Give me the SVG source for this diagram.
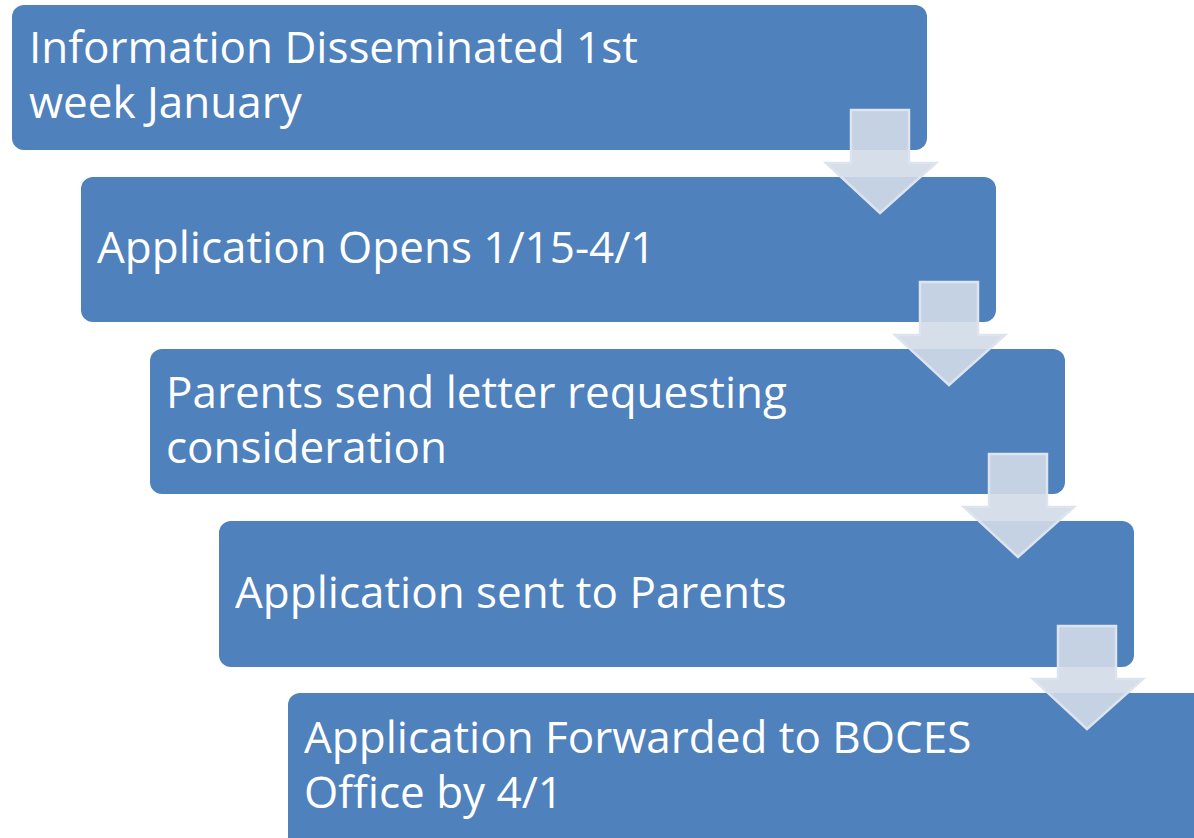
<svg xmlns="http://www.w3.org/2000/svg" width="1194" height="838" viewBox="0 0 1194 838">
<style>
.box{fill:#4f81bd;}
.t{font-family:"Open Sans","Noto Sans",sans-serif;font-size:44px;fill:#ffffff;}
.arr{fill:#d1dae7;fill-opacity:0.9;stroke:#dde3ef;stroke-width:2.5;stroke-linejoin:miter;}
</style>
<rect width="1194" height="838" fill="#ffffff"/>
<g id="node1"><rect class="box" x="12" y="5" width="915" height="145" rx="12"/>
<text class="t" x="29" y="63">Information Disseminated 1st</text>
<text class="t" x="29" y="118">week January</text></g>
<g id="node2"><rect class="box" x="81" y="177" width="915" height="145" rx="12"/>
<text class="t" x="97" y="263">Application Opens 1/15-4/1</text></g>
<g id="node3"><rect class="box" x="150" y="349" width="915" height="145" rx="12"/>
<text class="t" x="166" y="408">Parents send letter requesting</text>
<text class="t" x="166" y="463">consideration</text></g>
<g id="node4"><rect class="box" x="219" y="521" width="915" height="146" rx="12"/>
<text class="t" x="235" y="608">Application sent to Parents</text></g>
<g id="node5"><rect class="box" x="288" y="693" width="930" height="160" rx="12"/>
<text class="t" x="304" y="753">Application Forwarded to BOCES</text>
<text class="t" x="304" y="808">Office by 4/1</text></g>
<g id="connectors">
<path class="arr" d="M851,110 H909 V163 H936 L880,213 L826,163 H851 Z"/>
<path class="arr" d="M920,282 H978 V335 H1005 L949,385 L895,335 H920 Z"/>
<path class="arr" d="M989,454 H1047 V507 H1074 L1018,557 L964,507 H989 Z"/>
<path class="arr" d="M1058,626 H1116 V679 H1143 L1087,729 L1033,679 H1058 Z"/>
</g>
</svg>
